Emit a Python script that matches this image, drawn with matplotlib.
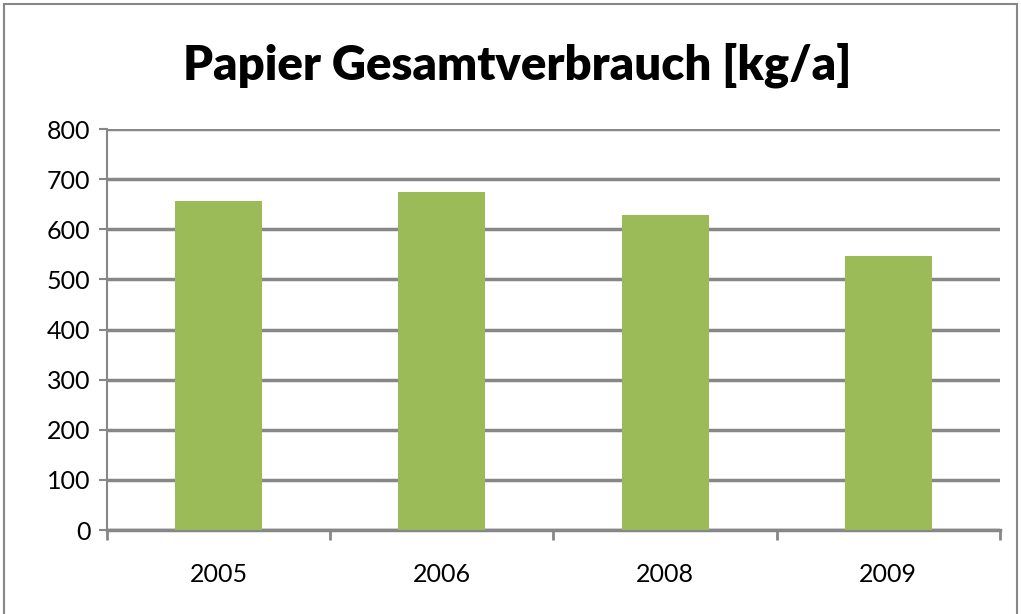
import matplotlib.pyplot as plt
from matplotlib.patches import Rectangle

years = ['2005', '2006', '2008', '2009']
verbrauch = [657, 674, 628, 547]
y_ticks = [0, 100, 200, 300, 400, 500, 600, 700, 800]

plt.rcParams['font.family'] = ['Lato', 'DejaVu Sans']

fig = plt.figure(figsize=(10.21, 6.14), dpi=100)
ax = fig.add_axes([0.1048, 0.1368, 0.8746, 0.6531])

x = range(len(years))
ax.bar(x, verbrauch, width=0.39, color='#9BBB59', zorder=3)

ax.set_xlim(-0.5, len(years) - 0.5)
ax.set_ylim(0, 800)
ax.set_yticks(y_ticks)
ax.set_xticks(list(x))
ax.set_xticklabels(years)
ax.set_xticks([i - 0.5 for i in range(len(years) + 1)], minor=True)

grid_col = '#878787'
ax.yaxis.grid(True, color=grid_col, linewidth=2.5, zorder=0)
for side in ['top', 'right']:
    ax.spines[side].set_visible(False)
ax.spines['left'].set_color(grid_col)
ax.spines['left'].set_linewidth(1.5)
ax.spines['bottom'].set_color(grid_col)
ax.spines['bottom'].set_linewidth(2.5)

ax.tick_params(axis='x', which='major', length=0, pad=24, labelsize=18)
ax.tick_params(axis='x', which='minor', length=7, width=2, color=grid_col, direction='out')
ax.tick_params(axis='y', length=6, width=1.5, color=grid_col, labelsize=18, pad=6)

fig.text(0.507, 0.893, 'Papier Gesamtverbrauch [kg/a]', ha='center', va='center',
         fontsize=34, fontweight='heavy')

# chart border
fig.patches.append(Rectangle((0.004, -0.02), 0.992, 1.013, transform=fig.transFigure,
                             fill=False, edgecolor='#878787', linewidth=1.5))

fig.savefig('out.png', dpi=100)
